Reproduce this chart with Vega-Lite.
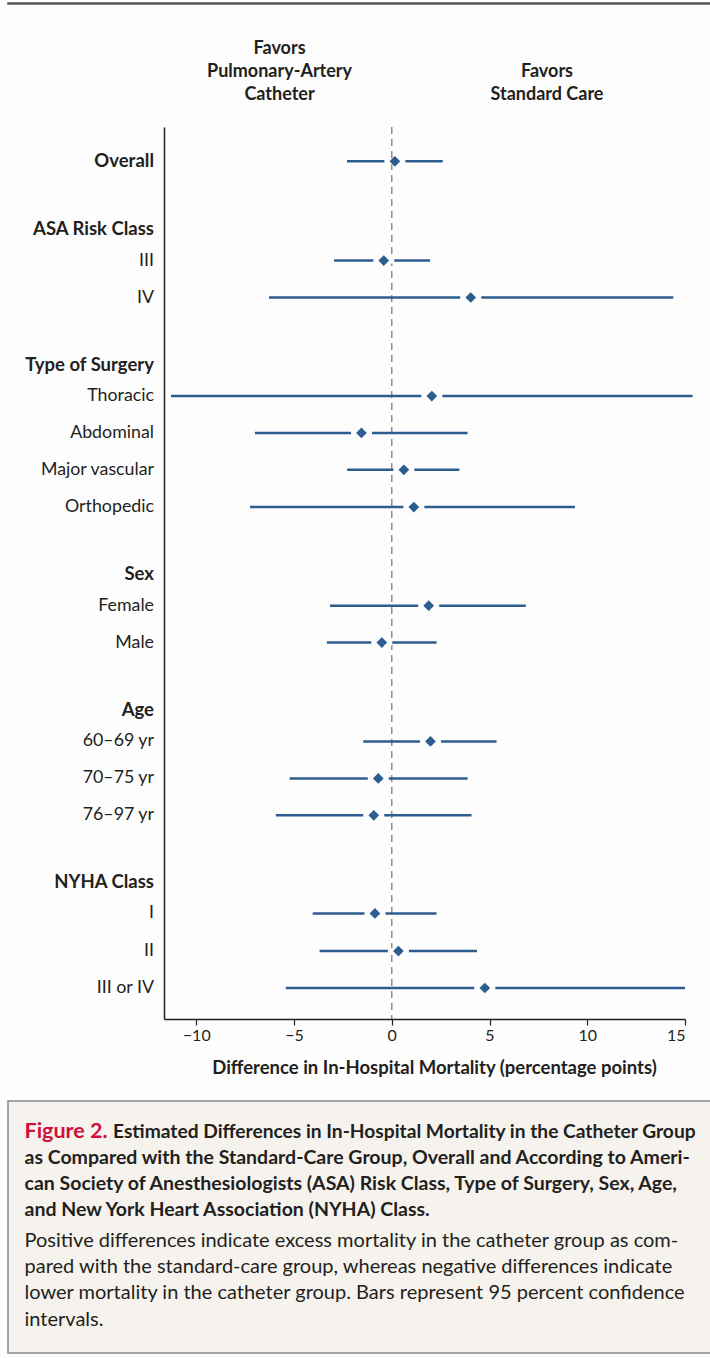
{
  "$schema": "https://vega.github.io/schema/vega-lite/v6.json",
  "background": "#fdfdfd",
  "padding": {"left": 7, "top": 2, "right": 0, "bottom": 6},
  "config": {"font": "Lato", "view": {"stroke": null}},
  "datasets": {
    "rows": [
      {"label": "Overall", "kind": "overall", "row": 0, "est": 0.16, "lo": -2.29, "hi": 2.61},
      {"label": "ASA Risk Class", "kind": "header", "row": 1.83},
      {"label": "III", "kind": "item", "row": 2.69, "est": -0.41, "lo": -2.95, "hi": 1.96},
      {"label": "IV", "kind": "item", "row": 3.69, "est": 4.04, "lo": -6.28, "hi": 14.4},
      {"label": "Type of Surgery", "kind": "header", "row": 5.51},
      {"label": "Thoracic", "kind": "item", "row": 6.36, "est": 2.05, "lo": -11.29, "hi": 15.39},
      {"label": "Abdominal", "kind": "item", "row": 7.36, "est": -1.55, "lo": -7.0, "hi": 3.88},
      {"label": "Major vascular", "kind": "item", "row": 8.36, "est": 0.62, "lo": -2.28, "hi": 3.46},
      {"label": "Orthopedic", "kind": "item", "row": 9.37, "est": 1.13, "lo": -7.25, "hi": 9.37},
      {"label": "Sex", "kind": "header", "row": 11.18},
      {"label": "Female", "kind": "item", "row": 12.04, "est": 1.89, "lo": -3.16, "hi": 6.86},
      {"label": "Male", "kind": "item", "row": 13.04, "est": -0.51, "lo": -3.32, "hi": 2.29},
      {"label": "Age", "kind": "header", "row": 14.87},
      {"label": "60–69 yr", "kind": "item", "row": 15.72, "est": 1.98, "lo": -1.46, "hi": 5.36},
      {"label": "70–75 yr", "kind": "item", "row": 16.72, "est": -0.69, "lo": -5.22, "hi": 3.88},
      {"label": "76–97 yr", "kind": "item", "row": 17.72, "est": -0.92, "lo": -5.93, "hi": 4.08},
      {"label": "NYHA Class", "kind": "header", "row": 19.53},
      {"label": "I", "kind": "item", "row": 20.38, "est": -0.86, "lo": -4.04, "hi": 2.29},
      {"label": "II", "kind": "item", "row": 21.4, "est": 0.34, "lo": -3.69, "hi": 4.36},
      {"label": "III or IV", "kind": "item", "row": 22.4, "est": 4.76, "lo": -5.42, "hi": 15.0}
    ],
    "favors": [
      {"side": "catheter", "text": "Favors\nPulmonary-Artery\nCatheter"},
      {"side": "standard", "text": "Favors\nStandard Care"}
    ],
    "caption": [
      {"kind": "fig", "para": 0, "text": "Figure 2."},
      {"kind": "title1", "para": 0, "text": "Estimated Differences in In-Hospital Mortality in the Catheter Group"},
      {"kind": "title2", "para": 0, "text": "as Compared with the Standard-Care Group, Overall and According to Ameri-\ncan Society of Anesthesiologists (ASA) Risk Class, Type of Surgery, Sex, Age,\nand New York Heart Association (NYHA) Class."},
      {"kind": "body", "para": 1, "text": "Positive differences indicate excess mortality in the catheter group as com-\npared with the standard-care group, whereas negative differences indicate\nlower mortality in the catheter group. Bars represent 95 percent confidence\nintervals."}
    ]
  },
  "spacing": 34,
  "vconcat": [
    {
      "width": 703,
      "height": 1,
      "view": {"stroke": "#555555", "strokeWidth": 1.5, "fill": "#555555"},
      "data": {"values": []},
      "mark": {"type": "rule"},
      "encoding": {}
    },
    {
      "spacing": 23,
      "vconcat": [
        {
          "spacing": 0,
          "hconcat": [
            {
              "width": 156,
              "height": 892,
              "data": {"name": "rows"},
              "encoding": {
                "x": {"datum": 1, "type": "quantitative", "scale": {"domain": [0, 1]}, "axis": null},
                "y": {"field": "row", "type": "quantitative", "scale": {"domain": [-0.93, 23.24], "reverse": true, "nice": false, "zero": false}, "axis": null},
                "text": {"field": "label"}
              },
              "layer": [
                {
                  "transform": [{"filter": "datum.kind == 'item'"}],
                  "mark": {"type": "text", "align": "right", "baseline": "middle", "fontSize": 17.8, "dx": -10, "color": "#231f20"}
                },
                {
                  "transform": [{"filter": "datum.kind != 'item'"}],
                  "mark": {"type": "text", "align": "right", "baseline": "middle", "fontSize": 18.5, "fontWeight": "bold", "dx": -10, "color": "#231f20"}
                }
              ]
            },
            {
              "width": 521,
              "height": 892,
              "layer": [
                {
                  "data": {"values": [{}]},
                  "mark": {"type": "rule", "strokeDash": [7, 5], "color": "#8c8c8c", "strokeWidth": 1.5},
                  "encoding": {"x": {"datum": 0, "type": "quantitative"}}
                },
                {
                  "data": {"name": "rows"},
                  "transform": [{"filter": "isValid(datum.est)"}],
                  "mark": {"type": "rule", "color": "#2c5d8f", "strokeWidth": 2.5, "clip": false},
                  "encoding": {
                    "x": {
                      "field": "lo", "type": "quantitative",
                      "scale": {"domain": [-11.65, 15], "nice": false, "zero": false},
                      "axis": {
                        "values": [-10, -5, 0, 5, 10, 15],
                        "title": "Difference in In-Hospital Mortality (percentage points)",
                        "titleFontSize": 18.5, "titleFontWeight": "bold", "titleColor": "#231f20",
                        "titlePadding": 15, "titleX": 270,
                        "labelFontSize": 16, "labelColor": "#231f20", "labelPadding": 2,
                        "tickSize": 6, "tickColor": "#231f20", "tickWidth": 1.2,
                        "domainColor": "#231f20", "domainWidth": 1.5, "grid": false
                      }
                    },
                    "x2": {"field": "hi"},
                    "y": {
                      "field": "row", "type": "quantitative",
                      "scale": {"domain": [-0.93, 23.24], "reverse": true, "nice": false, "zero": false},
                      "axis": {"labels": false, "ticks": false, "grid": false, "title": null, "domainColor": "#231f20", "domainWidth": 1.5}
                    }
                  }
                },
                {
                  "data": {"name": "rows"},
                  "transform": [{"filter": "isValid(datum.est)"}],
                  "mark": {"type": "point", "shape": "M-1,-0.28L1,-0.28L1,0.28L-1,0.28Z", "filled": true, "size": 441, "color": "#fdfdfd", "opacity": 1},
                  "encoding": {
                    "x": {"field": "est", "type": "quantitative"},
                    "y": {"field": "row", "type": "quantitative"}
                  }
                },
                {
                  "data": {"name": "rows"},
                  "transform": [{"filter": "isValid(datum.est)"}],
                  "mark": {"type": "point", "shape": "diamond", "filled": true, "size": 115, "color": "#2c5d8f", "opacity": 1},
                  "encoding": {
                    "x": {"field": "est", "type": "quantitative"},
                    "y": {"field": "row", "type": "quantitative"}
                  }
                },
                {
                  "data": {"name": "favors"},
                  "transform": [{"filter": "datum.side == 'catheter'"}],
                  "mark": {"type": "text", "align": "center", "baseline": "middle", "fontSize": 18, "fontWeight": "bold", "lineBreak": "\n", "lineHeight": 23, "color": "#231f20", "clip": false},
                  "encoding": {
                    "x": {"datum": -5.74, "type": "quantitative"},
                    "y": {"datum": -3.05, "type": "quantitative"},
                    "text": {"field": "text"}
                  }
                },
                {
                  "data": {"name": "favors"},
                  "transform": [{"filter": "datum.side == 'standard'"}],
                  "mark": {"type": "text", "align": "center", "baseline": "middle", "fontSize": 18, "fontWeight": "bold", "lineBreak": "\n", "lineHeight": 23, "color": "#231f20", "clip": false},
                  "encoding": {
                    "x": {"datum": 7.94, "type": "quantitative"},
                    "y": {"datum": -2.42, "type": "quantitative"},
                    "text": {"field": "text"}
                  }
                }
              ]
            }
          ]
        },
        {
          "width": 703,
          "height": 252,
          "view": {"fill": "#f6f3ee", "stroke": "#8a8a8a", "strokeWidth": 1.5},
          "data": {"name": "caption"},
          "encoding": {
            "x": {"datum": 0, "type": "quantitative", "scale": {"domain": [0, 1]}, "axis": null},
            "y": {"field": "para", "type": "quantitative", "scale": {"domain": [-0.2, 2.133], "reverse": true, "nice": false, "zero": false}, "axis": null},
            "text": {"field": "text"}
          },
          "layer": [
            {
              "transform": [{"filter": "datum.kind == 'fig'"}],
              "mark": {"type": "text", "align": "left", "baseline": "alphabetic", "fontSize": 21.5, "fontWeight": "bold", "dx": 16.5, "dy": 15.4, "color": "#d0103a"}
            },
            {
              "transform": [{"filter": "datum.kind == 'title1'"}],
              "mark": {"type": "text", "align": "left", "baseline": "alphabetic", "fontSize": 19.2, "fontWeight": "bold", "dx": 105, "dy": 15.4, "color": "#231f20"}
            },
            {
              "transform": [{"filter": "datum.kind == 'title2'"}],
              "mark": {"type": "text", "align": "left", "baseline": "top", "fontSize": 19.5, "fontWeight": "bold", "lineBreak": "\n", "lineHeight": 26.3, "dx": 16.5, "dy": 26.3, "color": "#231f20"}
            },
            {
              "transform": [{"filter": "datum.kind == 'body'"}],
              "mark": {"type": "text", "align": "left", "baseline": "top", "fontSize": 20, "lineBreak": "\n", "lineHeight": 26.3, "dx": 16.5, "color": "#231f20"}
            }
          ]
        }
      ]
    }
  ]
}
